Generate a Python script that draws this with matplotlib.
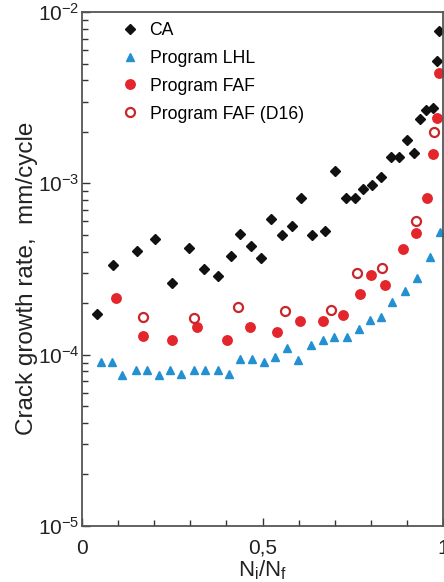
import matplotlib
matplotlib.use("Agg")
import matplotlib.pyplot as plt
from matplotlib.ticker import LogLocator, MultipleLocator, FixedLocator, FixedFormatter, NullFormatter

plt.rcParams['font.family'] = ['Liberation Sans', 'DejaVu Sans']
plt.rcParams['mathtext.fontset'] = 'custom'
plt.rcParams['mathtext.rm'] = 'Liberation Sans'

# =========================================================
# DATA
# =========================================================
ca_x = [0.041, 0.085, 0.153, 0.201, 0.250, 0.296, 0.337, 0.378, 0.413, 0.438,
        0.468, 0.497, 0.523, 0.554, 0.582, 0.608, 0.637, 0.672, 0.700, 0.731,
        0.757, 0.779, 0.803, 0.829, 0.855, 0.878, 0.899, 0.921, 0.936, 0.952,
        0.971, 0.983, 0.989]
ca_y = [1.72e-4, 3.33e-4, 4.03e-4, 4.73e-4, 2.63e-4, 4.22e-4, 3.18e-4, 2.88e-4, 3.75e-4, 5.07e-4,
        4.33e-4, 3.65e-4, 6.17e-4, 4.98e-4, 5.62e-4, 8.19e-4, 4.98e-4, 5.25e-4, 1.18e-3, 8.19e-4,
        8.19e-4, 9.24e-4, 9.75e-4, 1.09e-3, 1.42e-3, 1.42e-3, 1.79e-3, 1.51e-3, 2.37e-3, 2.68e-3,
        2.74e-3, 5.20e-3, 7.78e-3]

lhl_x = [0.052, 0.082, 0.112, 0.149, 0.179, 0.212, 0.245, 0.275, 0.309, 0.341,
         0.376, 0.407, 0.438, 0.471, 0.503, 0.536, 0.569, 0.599, 0.635, 0.667,
         0.698, 0.733, 0.766, 0.799, 0.829, 0.860, 0.895, 0.928, 0.963, 0.991]
lhl_y = [9.04e-5, 9.04e-5, 7.61e-5, 8.14e-5, 8.14e-5, 7.61e-5, 8.14e-5, 7.71e-5, 8.14e-5, 8.14e-5,
         8.14e-5, 7.69e-5, 9.40e-5, 9.40e-5, 9.04e-5, 9.66e-5, 1.09e-4, 9.31e-5, 1.14e-4, 1.22e-4,
         1.27e-4, 1.27e-4, 1.41e-4, 1.59e-4, 1.67e-4, 2.04e-4, 2.36e-4, 2.79e-4, 3.73e-4, 5.22e-4]

faf_x = [0.094, 0.169, 0.250, 0.319, 0.403, 0.466, 0.541, 0.604, 0.667, 0.724,
         0.770, 0.801, 0.840, 0.890, 0.926, 0.956, 0.972, 0.984, 0.989]
faf_y = [2.14e-4, 1.29e-4, 1.22e-4, 1.46e-4, 1.22e-4, 1.46e-4, 1.36e-4, 1.58e-4, 1.58e-4, 1.71e-4,
         2.25e-4, 2.91e-4, 2.56e-4, 4.13e-4, 5.11e-4, 8.22e-4, 1.49e-3, 2.40e-3, 4.43e-3]

d16_x = [0.169, 0.311, 0.431, 0.562, 0.689, 0.761, 0.832, 0.926, 0.975]
d16_y = [1.67e-4, 1.63e-4, 1.91e-4, 1.79e-4, 1.82e-4, 2.99e-4, 3.21e-4, 6.03e-4, 2.00e-3]

y_ticks = [1e-5, 1e-4, 1e-3, 1e-2]
y_tick_labels = [r'$\mathregular{10^{-5}}$', r'$\mathregular{10^{-4}}$',
                 r'$\mathregular{10^{-3}}$', r'$\mathregular{10^{-2}}$']
x_ticks = [0, 0.5, 1]
x_tick_labels = ['0', '0,5', '1']

# =========================================================
# FIGURE
# =========================================================
fig = plt.figure(figsize=(4.44, 5.82), dpi=100)
ax = fig.add_axes([82 / 444, 56 / 582, 361 / 444, 514 / 582])

ax.plot(ca_x, ca_y, 'D', color='#111111', markersize=5.5, label='CA', clip_on=False)
ax.plot(lhl_x, lhl_y, '^', color='#2390D2', markersize=6, label='Program LHL', clip_on=False)
ax.plot(faf_x, faf_y, 'o', color='#E2262B', markersize=6.8, label='Program FAF', clip_on=False)
ax.plot(d16_x, d16_y, 'o', markerfacecolor='white', markeredgecolor='#C8282D',
        markeredgewidth=1.6, markersize=6.5, label='Program FAF (D16)', clip_on=False)

ax.set_yscale('log')
ax.set_ylim(1e-5, 1e-2)
ax.set_xlim(0, 1)

ax.yaxis.set_major_locator(FixedLocator(y_ticks))
ax.yaxis.set_major_formatter(FixedFormatter(y_tick_labels))
ax.yaxis.set_minor_locator(LogLocator(base=10, subs=range(2, 10)))
ax.yaxis.set_minor_formatter(NullFormatter())
ax.xaxis.set_major_locator(FixedLocator(x_ticks))
ax.xaxis.set_major_formatter(FixedFormatter(x_tick_labels))
ax.xaxis.set_minor_locator(MultipleLocator(0.1))

ax.tick_params(which='both', direction='in', colors='#333333', labelcolor='#222222',
               labelsize=15, width=1.0)
ax.tick_params(which='major', length=6)
ax.tick_params(which='minor', length=4)
ax.tick_params(axis='y', pad=2)
ax.tick_params(axis='x', pad=9)

for s in ax.spines.values():
    s.set_color('#555555')
    s.set_linewidth(1.3)

ax.set_ylabel('Crack growth rate,  mm/cycle', fontsize=17.5, color='#222222')
ax.yaxis.set_label_coords(-0.122, 0.482)
ax.set_xlabel(r'N$_\mathregular{i}$/N$_\mathregular{f}$', fontsize=16, color='#222222', labelpad=1)

ax.legend(loc='upper left', bbox_to_anchor=(0.07, 1.005), frameon=False, fontsize=12.7,
          handletextpad=0.5, labelspacing=0.62, borderaxespad=0.3, handlelength=1.2)

fig.savefig('out.png', dpi=100)
plt.close()
